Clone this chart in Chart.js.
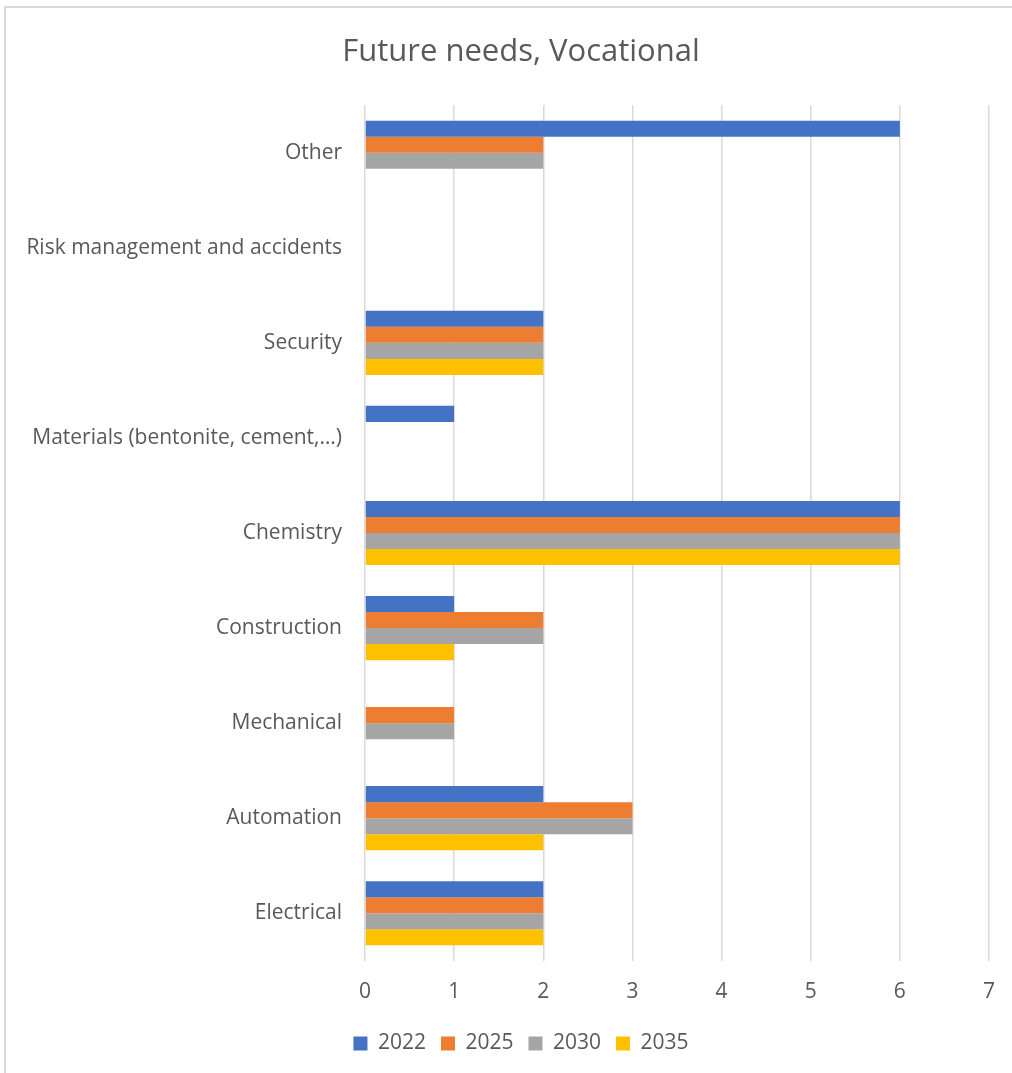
<!DOCTYPE html>
<html>
<head>
<meta charset="utf-8">
<script src="https://cdn.jsdelivr.net/npm/chart.js@4/dist/chart.umd.min.js"></script>
<style>
  html, body { margin: 0; padding: 0; background: #ffffff; overflow: hidden; }
  #wrap { position: relative; width: 1012px; height: 1073px; overflow: hidden; }
  #frame { position: absolute; left: 4px; top: 6px; width: 1100px; height: 1100px;
           border-left: 2px solid #d9d9d9; border-top: 2px solid #d9d9d9; box-sizing: border-box; }
  canvas { position: absolute; left: 0; top: 0; }
</style>
</head>
<body>
<div id="wrap">
  <div id="frame"></div>
  <canvas id="c" width="1034" height="1073"></canvas>
</div>
<script>
const categories = [
  "Other",
  "Risk management and accidents",
  "Security",
  "Materials (bentonite, cement,\u2026)",
  "Chemistry",
  "Construction",
  "Mechanical",
  "Automation",
  "Electrical"
];
const seriesNames = ["2022", "2025", "2030", "2035"];
const values2022 = [6, 0, 2, 1, 6, 1, 0, 2, 2];
const values2025 = [2, 0, 2, 0, 6, 2, 1, 3, 2];
const values2030 = [2, 0, 2, 0, 6, 2, 1, 3, 2];
const values2035 = [0, 0, 2, 0, 6, 1, 0, 2, 2];
const xTickValues = [0, 1, 2, 3, 4, 5, 6, 7];
const titleText = "Future needs, Vocational";

const colors = ["#4472C4", "#ED7D31", "#A5A5A5", "#FFC000"];
const allValues = [values2022, values2025, values2030, values2035];
const FONT = "'Open Sans', sans-serif";
const TEXT = "#595959";

new Chart(document.getElementById('c'), {
  type: 'bar',
  data: {
    labels: categories,
    datasets: seriesNames.map((name, i) => ({
      label: name,
      data: allValues[i],
      backgroundColor: colors[i],
      borderWidth: 0,
      categoryPercentage: 0.675,
      barPercentage: 1.0
    }))
  },
  options: {
    indexAxis: 'y',
    responsive: false,
    animation: false,
    layout: { padding: { left: 8, right: 0, top: 0, bottom: 9 } },
    plugins: {
      title: {
        display: true,
        text: titleText,
        color: TEXT,
        font: { family: FONT, size: 31, weight: 'normal' },
        padding: { top: 34, bottom: 34 }
      },
      legend: {
        display: true,
        position: 'bottom',
        labels: {
          color: TEXT,
          font: { family: FONT, size: 21 },
          boxWidth: 14,
          boxHeight: 14,
          padding: 15
        }
      },
      tooltip: { enabled: false }
    },
    scales: {
      x: {
        min: 0,
        max: 7,
        afterBuildTicks: (s) => { s.ticks = xTickValues.map(v => ({ value: v })); },
        afterFit: (s) => { s.height -= 6; s.paddingRight = 45; },
        grid: { display: true, color: '#d9d9d9', lineWidth: 1.5, drawTicks: false },
        border: { display: false },
        ticks: { color: TEXT, font: { family: FONT, size: 21 }, padding: 19, maxRotation: 0 }
      },
      y: {
        afterFit: (s) => { s.width = 357; },
        grid: { display: false, drawTicks: false },
        border: { display: false },
        ticks: { color: TEXT, font: { family: FONT, size: 21 }, padding: 23, autoSkip: false }
      }
    }
  }
});
</script>
</body>
</html>
